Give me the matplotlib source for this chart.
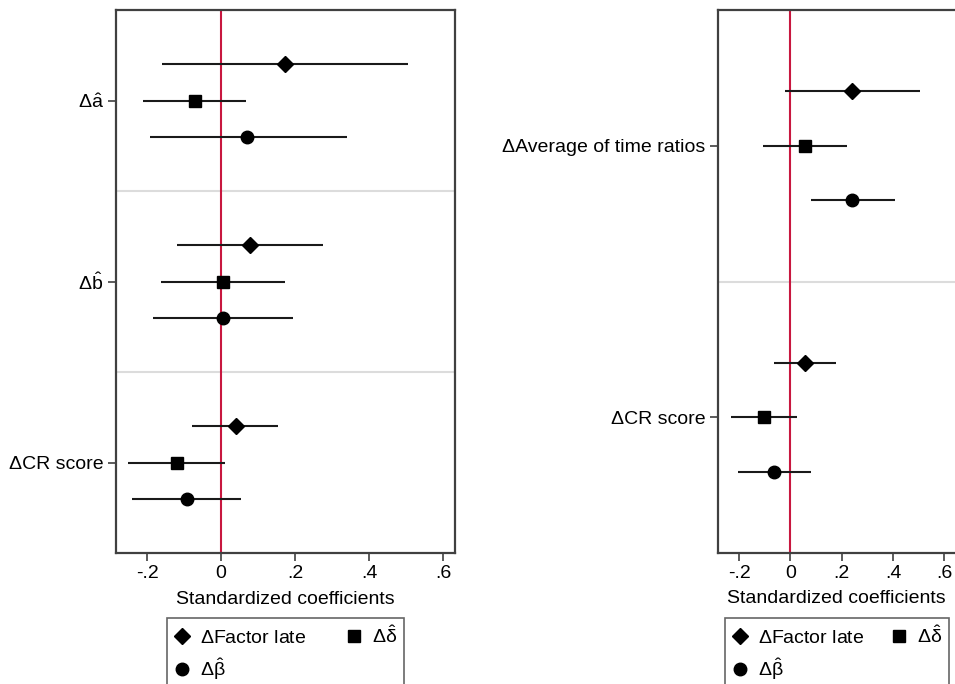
import matplotlib
matplotlib.use("Agg")
import matplotlib.pyplot as plt
from matplotlib.lines import Line2D

plt.rcParams['font.family'] = ['Liberation Sans', 'DejaVu Sans']
plt.rcParams['mathtext.fontset'] = 'custom'
plt.rcParams['mathtext.rm'] = 'Liberation Sans'
plt.rcParams['mathtext.it'] = 'Liberation Sans'
plt.rcParams['mathtext.bf'] = 'Liberation Sans:bold'

# ---------------- data ----------------
left_labels = [r'$\Delta\hat{\mathrm{a}}$', r'$\Delta\hat{\mathrm{b}}$', 'ΔCR score']
left_factor = [0.173, 0.078, 0.039]
left_factor_lo = [-0.160, -0.119, -0.079]
left_factor_hi = [0.506, 0.274, 0.154]
left_delta = [-0.071, 0.004, -0.120]
left_delta_lo = [-0.211, -0.162, -0.251]
left_delta_hi = [0.067, 0.172, 0.011]
left_beta = [0.071, 0.004, -0.092]
left_beta_lo = [-0.193, -0.183, -0.240]
left_beta_hi = [0.340, 0.193, 0.055]

right_labels = ['ΔAverage of time ratios', 'ΔCR score']
right_factor = [0.242, 0.057]
right_factor_lo = [-0.021, -0.064]
right_factor_hi = [0.504, 0.178]
right_delta = [0.058, -0.103]
right_delta_lo = [-0.108, -0.232]
right_delta_hi = [0.221, 0.027]
right_beta = [0.242, -0.064]
right_beta_lo = [0.079, -0.204]
right_beta_hi = [0.408, 0.082]

xticks = [-0.2, 0, 0.2, 0.4, 0.6]
xticklabels = ['-.2', '0', '.2', '.4', '.6']
series_names = [r'$\Delta$Factor late', r'$\Delta\hat{\mathrm{\delta}}$', r'$\Delta\hat{\mathrm{\beta}}$']

FS = 14
RED = '#C8173F'
SPINE = '#404040'
MARKERS = [('D', 8.0), ('s', 8.6), ('o', 9.0)]

fig = plt.figure(figsize=(9.55, 6.84), dpi=100)

def panel(rect, labels, series, xlim):
    ax = fig.add_axes(rect)
    n = len(labels)
    for g in range(n):
        c = 5 * g
        for k, (vals, lo, hi) in enumerate(series):
            y = c - 1 + k
            ax.plot([lo[g], hi[g]], [y, y], color='#1a1a1a', lw=1.5, zorder=3,
                    solid_capstyle='butt')
            m, ms = MARKERS[k]
            ax.plot([vals[g]], [y], marker=m, ms=ms, color='black',
                    linestyle='none', zorder=4)
    for g in range(n - 1):
        ax.axhline(5 * g + 2.5, color='#DCDCDC', lw=1.5, zorder=1)
    ax.axvline(0, color=RED, lw=1.5, zorder=2)
    ax.set_xlim(*xlim)
    ax.set_ylim(5 * (n - 1) + 2.5, -2.5)
    ax.set_yticks([5 * g for g in range(n)])
    ax.set_yticklabels(labels, fontsize=FS)
    ax.set_xticks(xticks)
    ax.set_xticklabels(xticklabels, fontsize=FS)
    ax.tick_params(axis='both', length=6, width=1.2, color=SPINE, pad=3)
    ax.set_xlabel('Standardized coefficients', fontsize=FS, labelpad=6)
    for s in ax.spines.values():
        s.set_color(SPINE)
        s.set_linewidth(1.6)
    return ax

ax1 = panel([116 / 955, 1 - 553 / 684, 339 / 955, 543 / 684], left_labels,
            [(left_factor, left_factor_lo, left_factor_hi),
             (left_delta, left_delta_lo, left_delta_hi),
             (left_beta, left_beta_lo, left_beta_hi)],
            (-0.284, 0.632))
ax2 = panel([718 / 955, 1 - 553 / 684, 244 / 955, 543 / 684], right_labels,
            [(right_factor, right_factor_lo, right_factor_hi),
             (right_delta, right_delta_lo, right_delta_hi),
             (right_beta, right_beta_lo, right_beta_hi)],
            (-0.282, 0.669))
# Reference x-label is centred on the visible part of the right panel
ax2.xaxis.set_label_coords((836 - 718) / 244, -(590 - 553) / 543)
ax2.xaxis.label.set_verticalalignment('top')

def make_legend(x0, width):
    h_f = Line2D([], [], marker=MARKERS[0][0], ms=MARKERS[0][1], color='black', linestyle='none')
    h_d = Line2D([], [], marker=MARKERS[1][0], ms=MARKERS[1][1], color='black', linestyle='none')
    h_b = Line2D([], [], marker=MARKERS[2][0], ms=MARKERS[2][1], color='black', linestyle='none')
    leg = fig.legend([h_f, h_b, h_d], [series_names[0], series_names[2], series_names[1]],
                     ncol=2, loc='upper left',
                     bbox_to_anchor=(x0 / 955, 1 - 619 / 684, width / 955, 0.001),
                     mode='expand',
                     fontsize=FS, frameon=True, fancybox=False, edgecolor=SPINE,
                     handlelength=0.8, handletextpad=0.55, columnspacing=1.5,
                     borderpad=0.35, labelspacing=0.45, borderaxespad=0)
    leg.get_frame().set_linewidth(1.2)
    return leg

make_legend(167, 237)
make_legend(725, 224)

fig.savefig('out.png', dpi=100)
